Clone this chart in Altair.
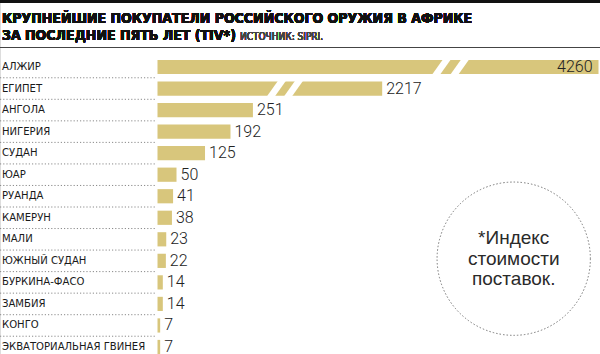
import altair as alt
import pandas as pd

countries = ["АЛЖИР", "ЕГИПЕТ", "АНГОЛА", "НИГЕРИЯ", "СУДАН", "ЮАР", "РУАНДА",
             "КАМЕРУН", "МАЛИ", "ЮЖНЫЙ СУДАН", "БУРКИНА-ФАСО", "ЗАМБИЯ", "КОНГО",
             "ЭКВАТОРИАЛЬНАЯ ГВИНЕЯ"]
values = [4260, 2217, 251, 192, 125, 50, 41, 38, 23, 22, 14, 14, 7, 7]
# drawn length (broken bars for the two largest)
shown = [1160, 591, 251, 192, 125, 50, 41, 38, 23, 22, 14, 14, 7, 7]
label_inside = [True] + [False] * 13

break_rows = [0, 0, 1, 1]
break_at = [747, 795, 313, 358]

title_lines = ["КРУПНЕЙШИЕ ПОКУПАТЕЛИ РОССИЙСКОГО ОРУЖИЯ В АФРИКЕ",
               "ЗА ПОСЛЕДНИЕ ПЯТЬ ЛЕТ (TIV*)"]
source_text = "ИСТОЧНИК: SIPRI."
note_lines = ["*Индекс", "стоимости", "поставок."]
note_x = 937
note_row = 8.9

BAR = "#d8c67c"
COND = "'DejaVu Sans Condensed', 'DejaVu Sans', sans-serif"
NUM = "Roboto, 'Liberation Sans', sans-serif"

df = pd.DataFrame({
    "row": list(range(len(countries))),
    "country": countries,
    "value": values,
    "shown": shown,
    "inside": label_inside,
})
brk = pd.DataFrame({"row": break_rows, "at": break_at})
seps = pd.DataFrame({"sep": [i + 0.5 for i in range(len(countries) - 1)]})
notes = pd.DataFrame({"t": note_lines, "row": [note_row - 0.95, note_row, note_row + 0.95],
                      "x": [note_x] * 3})
circ = pd.DataFrame({"x": [note_x], "row": [note_row]})

xs = alt.Scale(domain=[0, 1160], range=[157.5, 598.5])
ys = alt.Scale(domain=[0, 13], range=[67, 347])

base = alt.Chart(df)

bars = base.mark_rect(color=BAR).transform_calculate(
    x0="0", y0="datum.row - 0.33", y1="datum.row + 0.33"
).encode(
    x=alt.X("x0:Q", scale=xs, axis=None),
    x2="shown:Q",
    y=alt.Y("y0:Q", scale=ys, axis=None),
    y2="y1:Q",
)

breaks = alt.Chart(brk).mark_rule(color="white", strokeWidth=6.5).transform_calculate(
    xa="datum.at - 18", xb="datum.at + 18", ya="datum.row + 0.45", yb="datum.row - 0.45"
).encode(
    x=alt.X("xa:Q", scale=xs, axis=None),
    x2="xb:Q",
    y=alt.Y("ya:Q", scale=ys, axis=None),
    y2="yb:Q",
)

names = base.mark_text(align="left", baseline="middle", font=COND, fontSize=11.2,
                       color="#1a1a1a").encode(
    x=alt.value(2),
    y=alt.Y("row:Q", scale=ys, axis=None),
    text="country:N",
)

vals_out = base.transform_filter("!datum.inside").mark_text(
    align="left", baseline="middle", dx=4, dy=0, font=NUM, fontWeight=300,
    fontSize=16, color="#222222"
).encode(
    x=alt.X("shown:Q", scale=xs, axis=None),
    y=alt.Y("row:Q", scale=ys, axis=None),
    text="value:Q",
)

vals_in = base.transform_filter("datum.inside").mark_text(
    align="right", baseline="middle", dx=-6, dy=0, font=NUM, fontWeight=300,
    fontSize=16, color="#222222"
).encode(
    x=alt.X("shown:Q", scale=xs, axis=None),
    y=alt.Y("row:Q", scale=ys, axis=None),
    text="value:Q",
)

separators = alt.Chart(seps).mark_rule(color="#8a8a8a", strokeWidth=1,
                                        strokeDash=[1.2, 2]).encode(
    x=alt.value(0),
    x2=alt.value(155),
    y=alt.Y("sep:Q", scale=ys, axis=None),
)

circle = alt.Chart(circ).mark_point(shape="circle", filled=False, size=23500,
                                    color="#777777", strokeWidth=1,
                                    strokeDash=[1.5, 2], opacity=1).encode(
    x=alt.X("x:Q", scale=xs, axis=None),
    y=alt.Y("row:Q", scale=ys, axis=None),
)

note = alt.Chart(notes).mark_text(align="center", baseline="middle",
                                  font="'Liberation Sans', sans-serif", fontSize=19,
                                  color="#2a2a2a").encode(
    x=alt.X("x:Q", scale=xs, axis=None),
    y=alt.Y("row:Q", scale=ys, axis=None),
    text="t:N",
)

top_rule = alt.Chart(df).mark_rule(color="#111111", strokeWidth=3).encode(
    x=alt.value(0), x2=alt.value(600), y=alt.value(1.5)
)
mid_rule = alt.Chart(df).mark_rule(color="#444444", strokeWidth=1).encode(
    x=alt.value(0), x2=alt.value(600), y=alt.value(47.5)
)

t1 = alt.Chart(df).mark_text(text=title_lines[0], align="left", baseline="alphabetic",
                             font=COND, fontWeight="bold", fontSize=14,
                             color="#111111").encode(x=alt.value(2), y=alt.value(22.5))
t2 = alt.Chart(df).mark_text(text=title_lines[1], align="left", baseline="alphabetic",
                             font=COND, fontWeight="bold", fontSize=14,
                             color="#111111").encode(x=alt.value(2), y=alt.value(40))
src = alt.Chart(df).mark_text(text=source_text, align="left", baseline="alphabetic",
                              font=COND, fontSize=10, color="#444444").encode(
    x=alt.value(240), y=alt.value(39.5))

chart = alt.layer(
    separators, bars, breaks, names, vals_out, vals_in, circle, note,
    top_rule, mid_rule, t1, t2, src
).properties(
    width=600, height=354, padding=0, autosize=alt.AutoSizeParams(type="none")
).configure_view(stroke=None).configure(background="white")

chart.save("out.html", embed_options={"renderer": "svg", "actions": False})
